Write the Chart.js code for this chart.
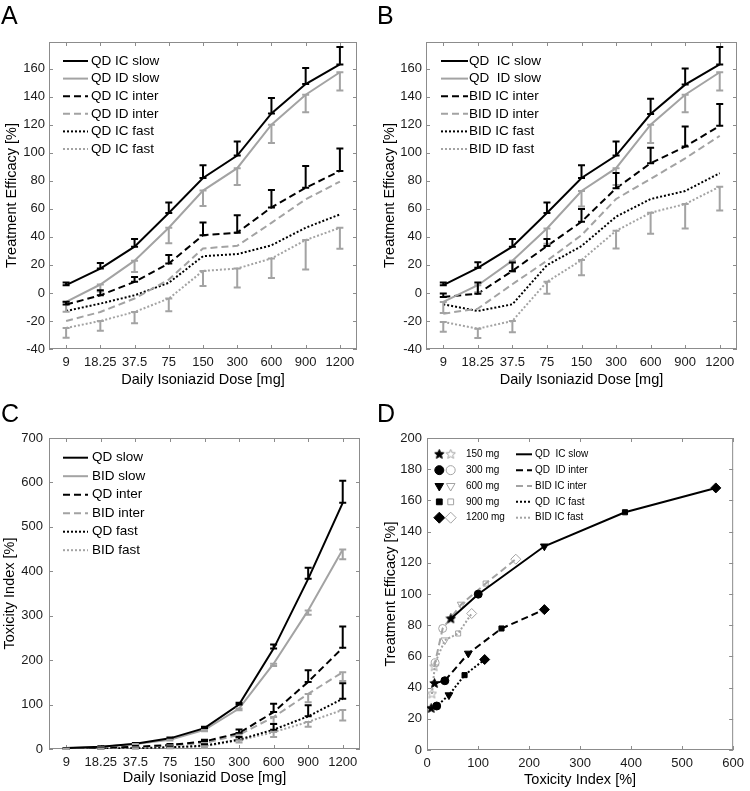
<!DOCTYPE html>
<html>
<head>
<meta charset="utf-8">
<script src="https://cdn.jsdelivr.net/npm/chart.js@4.4.1/dist/chart.umd.min.js"></script>
<style>
  html, body { margin: 0; padding: 0; background: #fff; }
  #page { position: relative; width: 750px; height: 791px; overflow: hidden; }
  #page canvas { position: absolute; }
  .tag { position: absolute; font: 25px "Liberation Sans", Arial, sans-serif; color: #000; line-height: 1; }
</style>
</head>
<body>
<div id="page">
  <canvas id="chartA" width="375" height="395" style="left:0;top:0"></canvas>
  <canvas id="chartB" width="375" height="395" style="left:375px;top:0"></canvas>
  <canvas id="chartC" width="375" height="396" style="left:0;top:395px"></canvas>
  <canvas id="chartD" width="375" height="396" style="left:375px;top:395px"></canvas>
  <div class="tag" style="left:1px;top:3px">A</div>
  <div class="tag" style="left:377px;top:3px">B</div>
  <div class="tag" style="left:1px;top:401px">C</div>
  <div class="tag" style="left:377px;top:401px">D</div>
</div>
<script>
// ---- data ----
const DOSES = ['9', '18.25', '37.5', '75', '150', '300', '600', '900', '1200'];
const EFF_TICKS = [-40, -20, 0, 20, 40, 60, 80, 100, 120, 140, 160];
const TOX_TICKS = [0, 100, 200, 300, 400, 500, 600, 700];
const D_X_TICKS = [0, 100, 200, 300, 400, 500, 600];
const D_Y_TICKS = [0, 20, 40, 60, 80, 100, 120, 140, 160, 180, 200];

// panel A (QD)
const aIcSlow     = [5.5, 17.4, 33, 57, 82, 98, 128, 149, 163];
const aIcSlowErr  = [2, 4, 5.5, 7.5, 9, 10, 11, 11.5, 12.5];
const aIdSlow     = [-6.4, 6, 23, 46.5, 73, 89, 120, 141.4, 157.4];
const aIdSlowErr  = [7, 5, 8, 11, 11, 12, 13, 12.5, 13];
const aIcInter    = [-8.3, -1.7, 7.9, 21, 41.2, 43, 61, 75, 87];
const aIcInterErr = [2, 3.6, 3.5, 6, 9, 12.5, 12.5, 15.5, 16];
const aIdInter    = [-20, -13.6, -4, 9.5, 31.7, 33.6, 50, 66.8, 79.4];
const aIcFast     = [-12.9, -7.6, -1.7, 7.2, 26.2, 27.7, 34, 46.5, 56];
const aIdFast     = [-25, -20, -13.6, -4, 15.7, 17.4, 24.6, 37.7, 46.5];
const aIdFastErr  = [7, 7, 8, 9, 10.7, 13.6, 14, 21, 15];

// panel B (QD slow vs BID)
const bIcSlow     = [5.5, 17.9, 33, 57, 82, 98, 127.6, 148.6, 163];
const bIcSlowErr  = [2, 4, 5.5, 7.5, 9, 10, 11, 11.5, 12.5];
const bIdSlow     = [-6.4, 5.5, 23, 46, 72.7, 89, 120, 141.4, 157.4];
const bIdSlowErr  = [8, 5, 8, 11, 11, 12, 13, 12.5, 13];
const bIcInter    = [-2.9, -0.5, 15.7, 33.4, 50.8, 74.6, 92.5, 104.4, 119.2];
const bIcInterErr = [2.5, 8, 6, 5, 9, 11, 11, 14.4, 15.5];
const bIdInter    = [-14.8, -11.2, 6.2, 23, 41.2, 67, 81.3, 96, 112];
const bIcFast     = [-8.1, -12.9, -8.1, 19.8, 33.4, 54.4, 67, 72.7, 85.4];
const bIdFast     = [-20.7, -25.5, -20, 7.9, 23.4, 44.3, 57.2, 63.4, 75.8];
const bIdFastErr  = [7, 6.7, 8, 8.4, 10.8, 12.6, 15, 17.4, 17];

// panel C (toxicity)
const cQdSlow      = [2, 5, 12, 24, 47, 100, 226, 383, 554];
const cQdSlowErr   = [0.5, 1, 1.5, 2, 3, 4, 9, 25, 50];
const cBidSlow     = [1.8, 4.5, 11, 21, 43, 91, 192, 312, 449];
const cBidSlowErr  = [0.5, 1, 1.5, 2, 3, 4, 5, 10, 22];
const cQdInter     = [1, 2.5, 5, 9, 17, 36, 83, 151, 228];
const cQdInterErr  = [0.5, 1, 1.5, 2, 4, 8, 19, 26, 48];
const cBidInter    = [0.8, 2, 4, 8, 13.5, 32, 72, 124, 173];
const cBidInterErr = [0.5, 1, 1.5, 2, 3, 6, 15, 19, 20];
const cQdFast      = [0.5, 1, 2, 4, 7.5, 21, 43.5, 73.5, 113];
const cQdFastErr   = [0.5, 0.5, 1, 1.5, 3, 6, 13, 25, 35];
const cBidFast     = [0.4, 0.8, 1.5, 3, 6, 19.5, 38, 61, 88];
const cBidFastErr  = [0.5, 0.5, 1, 1.5, 3, 5, 11, 11, 24];

// panel D (efficacy vs toxicity, doses 150..1200 mg)
const dDoseLabels = ['150 mg', '300 mg', '600 mg', '900 mg', '1200 mg'];
const dSlowX     = [46.7, 100.4, 230, 388, 566];
const dSlowY     = [84.1, 99.9, 130.6, 152.4, 168];
const dQdInterX  = [14.7, 35, 81, 146, 230];
const dQdInterY  = [42.7, 44.4, 61.9, 77.9, 90];
const dBidInterX = [14, 30.7, 67, 115, 174];
const dBidInterY = [53.4, 77.9, 93.3, 106.7, 122.3];
const dQdFastX   = [8.3, 19, 43, 73.6, 113];
const dQdFastY   = [26.7, 28.2, 35.2, 48, 58];
const dBidFastX  = [9.6, 16, 35, 61, 87.6];
const dBidFastY  = [35.9, 55.9, 70.4, 74.7, 87.5];

// ---- styles ----
const FONT = '"Liberation Sans", Arial, Helvetica, sans-serif';
const BLACK = '#000000';
const GREY = '#a3a3a3';
const AXIS = '#8c8c8c';
const TXT = '#1a1a1a';
const SOLID = [], DASH = [7, 4], DOT = [2, 2];

Chart.defaults.font.family = FONT;
Chart.defaults.color = TXT;

function series(label, data, color, dash, errUp, errDown) {
  return {
    label, data, borderColor: color, borderWidth: 2, borderDash: dash,
    pointRadius: 0, fill: false, tension: 0, errUp, errDown
  };
}

// star marker as image (Chart.js has no filled pentagram)
function starImage(fill, stroke, size) {
  const c = document.createElement('canvas');
  c.width = c.height = size;
  const g = c.getContext('2d');
  const R = size / 2 - 0.6, r = R * 0.45;
  g.beginPath();
  for (let k = 0; k < 10; k++) {
    const ang = -Math.PI / 2 + k * Math.PI / 5;
    const rr = k % 2 ? r : R;
    g.lineTo(size / 2 + rr * Math.cos(ang), size / 2 + rr * Math.sin(ang));
  }
  g.closePath();
  if (fill) { g.fillStyle = fill; g.fill(); }
  g.strokeStyle = stroke; g.lineWidth = 1; g.stroke();
  return c;
}
const starFilled = starImage(BLACK, BLACK, 11);
const starHollow = starImage(null, GREY, 11);
const MARK_STYLE = [starFilled, 'circle', 'triangle', 'rect', 'rectRot'];
const MARK_HOLLOW = [starHollow, 'circle', 'triangle', 'rect', 'rectRot'];
const MARK_ROT = [0, 0, 180, 0, 0];
const MARK_R = [5, 4, 4.5, 3.6, 5];

// ── PLUGINS ──
const axisBox = {
  id: 'axisBox',
  beforeDatasetsDraw(chart) {
    const { ctx, chartArea: a } = chart;
    const x = chart.scales.x, y = chart.scales.y;
    ctx.save();
    ctx.strokeStyle = AXIS;
    ctx.lineWidth = 1;
    ctx.strokeRect(a.left + 0.5, a.top + 0.5, a.width - 1, a.height - 1);
    ctx.beginPath();
    x.ticks.forEach((t, i) => {
      const px = Math.round(x.getPixelForTick(i)) + 0.5;
      ctx.moveTo(px, a.bottom); ctx.lineTo(px, a.bottom - 4);
      ctx.moveTo(px, a.top); ctx.lineTo(px, a.top + 4);
    });
    y.ticks.forEach((t, i) => {
      const py = Math.round(y.getPixelForTick(i)) + 0.5;
      ctx.moveTo(a.left, py); ctx.lineTo(a.left + 4, py);
      ctx.moveTo(a.right, py); ctx.lineTo(a.right - 4, py);
    });
    ctx.stroke();
    ctx.restore();
  }
};

const errorBars = {
  id: 'errorBars',
  afterDatasetsDraw(chart) {
    const ctx = chart.ctx;
    const x = chart.scales.x, y = chart.scales.y;
    chart.data.datasets.forEach(ds => {
      const err = ds.errUp || ds.errDown;
      if (!err) return;
      const dir = ds.errUp ? 1 : -1;
      ctx.save();
      ctx.strokeStyle = ds.borderColor;
      ctx.lineWidth = 2;
      ctx.setLineDash([]);
      ctx.beginPath();
      ds.data.forEach((v, i) => {
        const px = x.getPixelForValue(i);
        const y0 = y.getPixelForValue(v);
        const y1 = y.getPixelForValue(v + dir * err[i]);
        ctx.moveTo(px, y0); ctx.lineTo(px, y1);
        ctx.moveTo(px - 3.5, y0); ctx.lineTo(px + 3.5, y0);
        ctx.moveTo(px - 3.5, y1); ctx.lineTo(px + 3.5, y1);
      });
      ctx.stroke();
      ctx.restore();
    });
  }
};

// legend inside the axes, MATLAB-like
const lineKey = {
  id: 'lineKey',
  afterDraw(chart, args, opts) {
    const ctx = chart.ctx, a = chart.chartArea;
    ctx.save();
    ctx.font = opts.size + 'px ' + FONT;
    ctx.textBaseline = 'middle';
    chart.data.datasets.forEach((ds, i) => {
      const y = a.top + opts.top + i * opts.dy;
      const x0 = a.left + opts.left;
      ctx.strokeStyle = ds.borderColor;
      ctx.lineWidth = ds.borderWidth;
      ctx.setLineDash(ds.borderDash || []);
      ctx.beginPath();
      ctx.moveTo(x0, y); ctx.lineTo(x0 + opts.len, y);
      ctx.stroke();
      ctx.fillStyle = BLACK;
      ctx.fillText(ds.label, x0 + opts.len + opts.gap, y);
    });
    ctx.restore();
  }
};

const markerKey = {
  id: 'markerKey',
  afterDraw(chart, args, opts) {
    const ctx = chart.ctx, a = chart.chartArea;
    ctx.save();
    ctx.font = opts.size + 'px ' + FONT;
    ctx.textBaseline = 'middle';
    dDoseLabels.forEach((lab, i) => {
      const y = a.top + opts.top + i * opts.dy;
      ctx.save();
      ctx.fillStyle = BLACK; ctx.strokeStyle = BLACK; ctx.lineWidth = 1;
      Chart.helpers.drawPoint(ctx, { pointStyle: MARK_STYLE[i], rotation: MARK_ROT[i], radius: MARK_R[i] + 0.5, borderWidth: 1 }, a.left + opts.m1, y);
      ctx.fillStyle = 'rgba(0,0,0,0)'; ctx.strokeStyle = GREY;
      Chart.helpers.drawPoint(ctx, { pointStyle: MARK_HOLLOW[i], rotation: MARK_ROT[i], radius: MARK_R[i] + 0.5, borderWidth: 1 }, a.left + opts.m2, y);
      ctx.restore();
      ctx.fillStyle = BLACK;
      ctx.fillText(lab, a.left + opts.t1, y);
    });
    chart.data.datasets.forEach((ds, i) => {
      const y = a.top + opts.top + i * opts.dy;
      ctx.strokeStyle = ds.borderColor;
      ctx.lineWidth = ds.borderWidth;
      ctx.setLineDash(ds.borderDash || []);
      ctx.beginPath();
      ctx.moveTo(a.left + opts.l0, y); ctx.lineTo(a.left + opts.l1, y);
      ctx.stroke();
      ctx.setLineDash([]);
      ctx.fillStyle = BLACK;
      ctx.fillText(ds.keyLabel, a.left + opts.t2, y);
    });
    ctx.restore();
  }
};

// ── AXES ──
function xCat(g) {
  return {
    type: 'category', offset: true,
    grid: { display: false, drawTicks: false }, border: { display: false },
    ticks: { padding: g.xTickPad, font: { size: 13 }, color: TXT, maxRotation: 0, autoSkip: false },
    title: { display: true, text: 'Daily Isoniazid Dose [mg]', font: { size: 14.5 }, color: BLACK,
             padding: { top: 0, bottom: g.xTitlePad } },
    afterFit: s => { s.height = g.xH; }
  };
}
function xLin(g, min, max, ticks, text) {
  return {
    type: 'linear', min, max,
    grid: { display: false, drawTicks: false }, border: { display: false },
    ticks: { padding: g.xTickPad, font: { size: 13 }, color: TXT, maxRotation: 0 },
    afterBuildTicks: s => { s.ticks = ticks.map(v => ({ value: v })); },
    title: { display: true, text, font: { size: 14.5 }, color: BLACK, padding: { top: 0, bottom: g.xTitlePad } },
    afterFit: s => { s.height = g.xH; }
  };
}
function yLin(g, min, max, ticks, text) {
  return {
    type: 'linear', min, max,
    grid: { display: false, drawTicks: false }, border: { display: false },
    ticks: { padding: g.yTickPad, font: { size: 13 }, color: TXT },
    afterBuildTicks: s => { s.ticks = ticks.map(v => ({ value: v })); },
    title: { display: true, text, font: { size: 14.5 }, color: BLACK, padding: { top: g.yTitlePad, bottom: 0 } },
    afterFit: s => { s.width = g.yW; }
  };
}
function baseOptions(g, key) {
  return {
    responsive: false, animation: false, events: [],
    layout: { padding: { top: g.top, right: g.right, left: 0, bottom: 0 } },
    plugins: Object.assign({ legend: { display: false }, tooltip: { enabled: false } }, key)
  };
}

// ── PANEL A ──
const gA = { top: 42, right: 18, yW: 49, xH: 46, xTickPad: 6, xTitlePad: 6, yTickPad: 4, yTitlePad: 3 };
new Chart(document.getElementById('chartA'), {
  type: 'line',
  data: {
    labels: DOSES,
    datasets: [
      series('QD IC slow', aIcSlow, BLACK, SOLID, aIcSlowErr),
      series('QD ID slow', aIdSlow, GREY, SOLID, null, aIdSlowErr),
      series('QD IC inter', aIcInter, BLACK, DASH, aIcInterErr),
      series('QD ID inter', aIdInter, GREY, DASH),
      series('QD IC fast', aIcFast, BLACK, DOT),
      series('QD IC fast', aIdFast, GREY, DOT, null, aIdFastErr)
    ]
  },
  options: Object.assign(baseOptions(gA, { lineKey: { left: 14, top: 19, dy: 17.6, len: 25, gap: 3, size: 13.5 } }), {
    scales: { x: xCat(gA), y: yLin(gA, -40, 179, EFF_TICKS, 'Treatment Efficacy [%]') }
  }),
  plugins: [axisBox, errorBars, lineKey]
});

// ── PANEL B ──
const gB = { top: 42, right: 13, yW: 51, xH: 46, xTickPad: 6, xTitlePad: 6, yTickPad: 4, yTitlePad: 6 };
new Chart(document.getElementById('chartB'), {
  type: 'line',
  data: {
    labels: DOSES,
    datasets: [
      series('QD  IC slow', bIcSlow, BLACK, SOLID, bIcSlowErr),
      series('QD  ID slow', bIdSlow, GREY, SOLID, null, bIdSlowErr),
      series('BID IC inter', bIcInter, BLACK, DASH, bIcInterErr),
      series('BID ID inter', bIdInter, GREY, DASH),
      series('BID IC fast', bIcFast, BLACK, DOT),
      series('BID ID fast', bIdFast, GREY, DOT, null, bIdFastErr)
    ]
  },
  options: Object.assign(baseOptions(gB, { lineKey: { left: 15, top: 19, dy: 17.6, len: 27, gap: 1, size: 13.5 } }), {
    scales: { x: xCat(gB), y: yLin(gB, -40, 179, EFF_TICKS, 'Treatment Efficacy [%]') }
  }),
  plugins: [axisBox, errorBars, lineKey]
});

// ── PANEL C ──
const gC = { top: 43, right: 15, yW: 49, xH: 42, xTickPad: 6, xTitlePad: 4, yTickPad: 6, yTitlePad: 1 };
new Chart(document.getElementById('chartC'), {
  type: 'line',
  data: {
    labels: DOSES,
    datasets: [
      series('QD slow', cQdSlow, BLACK, SOLID, cQdSlowErr),
      series('BID slow', cBidSlow, GREY, SOLID, null, cBidSlowErr),
      series('QD inter', cQdInter, BLACK, DASH, cQdInterErr),
      series('BID inter', cBidInter, GREY, DASH, null, cBidInterErr),
      series('QD fast', cQdFast, BLACK, DOT, cQdFastErr),
      series('BID fast', cBidFast, GREY, DOT, null, cBidFastErr)
    ]
  },
  options: Object.assign(baseOptions(gC, { lineKey: { left: 14, top: 19.7, dy: 18.5, len: 25, gap: 4, size: 13.5 } }), {
    scales: { x: xCat(gC), y: yLin(gC, 0, 700, TOX_TICKS, 'Toxicity Index [%]') }
  }),
  plugins: [axisBox, errorBars, lineKey]
});

// ── PANEL D ──
function pts(xs, ys) { return xs.map((x, i) => ({ x, y: ys[i] })); }
function tradeoff(keyLabel, xs, ys, color, dash, hollow) {
  return {
    keyLabel, data: pts(xs, ys), showLine: true,
    borderColor: color, borderWidth: 2, borderDash: dash,
    pointStyle: hollow ? MARK_HOLLOW : MARK_STYLE, pointRotation: MARK_ROT, pointRadius: MARK_R,
    pointBackgroundColor: hollow ? 'rgba(0,0,0,0)' : BLACK,
    pointBorderColor: hollow ? GREY : BLACK, pointBorderWidth: 1
  };
}
const gD = { top: 43, right: 11, yW: 52, xH: 41, xTickPad: 6, xTitlePad: 2, yTickPad: 5, yTitlePad: 7 };
new Chart(document.getElementById('chartD'), {
  type: 'scatter',
  data: {
    datasets: [
      tradeoff('QD  IC slow', dSlowX, dSlowY, BLACK, SOLID, false),
      tradeoff('QD  ID inter', dQdInterX, dQdInterY, BLACK, DASH, false),
      tradeoff('BID IC inter', dBidInterX, dBidInterY, GREY, DASH, true),
      tradeoff('QD  IC fast', dQdFastX, dQdFastY, BLACK, DOT, false),
      tradeoff('BID IC fast', dBidFastX, dBidFastY, GREY, DOT, true)
    ]
  },
  options: Object.assign(baseOptions(gD, { markerKey: { top: 16.3, dy: 15.85, m1: 12.3, m2: 23.7, t1: 39, l0: 89, l1: 105, t2: 108, size: 10 } }), {
    scales: {
      x: xLin(gD, 0, 600, D_X_TICKS, 'Toxicity Index [%]'),
      y: yLin(gD, 0, 200, D_Y_TICKS, 'Treatment Efficacy [%]')
    }
  }),
  plugins: [axisBox, markerKey]
});
</script>
</body>
</html>
